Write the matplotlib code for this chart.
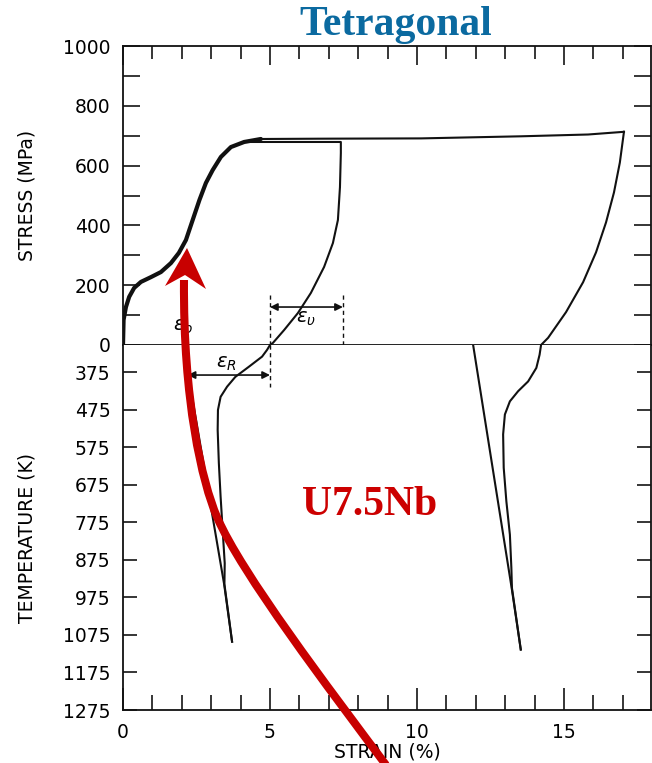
import numpy as np
import matplotlib.pyplot as plt
from matplotlib.ticker import MultipleLocator
from matplotlib.patches import Polygon, PathPatch
from matplotlib.path import Path

# stress-strain loop (MPa vs % strain)
load_strain = [0, 0.02, 0.10, 0.21, 0.38, 0.61, 0.95, 1.29, 1.63, 1.90, 2.14,
               2.37, 2.60, 2.82, 3.05, 3.33, 3.67, 4.12, 4.69]
load_stress = [0, 84, 127, 161, 191, 211, 227, 244, 274, 308, 351,
               418, 485, 542, 585, 629, 662, 679, 689]
plateau_strain = [4.69, 6.73, 10.14, 13.54, 15.82, 17.04]
plateau_stress = [689, 690, 691, 698, 704, 713]
unload1_strain = [4.12, 7.41, 7.41, 7.38, 7.31, 7.14, 6.84, 6.39, 5.95, 5.48, 5.10, 5.0]
unload1_stress = [679, 679, 642, 528, 418, 341, 261, 174, 107, 50, 7, 0]
unload2_strain = [17.04, 16.90, 16.70, 16.43, 16.09, 15.65, 15.07, 14.46, 14.22]
unload2_stress = [713, 610, 510, 410, 310, 210, 110, 24, 0]

# shape recovery on heating / cooling (K vs % strain)
heat1_strain = [5.0, 4.90, 4.73, 4.28, 3.82, 3.54, 3.32, 3.23, 3.22, 3.26, 3.32,
                3.39, 3.46, 3.45, 3.71]
heat1_temp = [303, 316, 334, 361, 388, 414, 441, 476, 529, 617, 707,
              796, 884, 940, 1093]
cool1_strain = [2.05, 3.44, 3.71]
cool1_temp = [303, 940, 1093]
heat2_strain = [14.22, 14.17, 14.06, 13.78, 13.44, 13.16, 12.99, 12.93, 12.95,
                13.04, 13.16, 13.21, 13.23, 13.53]
heat2_temp = [303, 329, 364, 400, 426, 453, 488, 541, 630,
              719, 808, 896, 950, 1114]
cool2_strain = [11.91, 13.23, 13.53]
cool2_temp = [303, 955, 1114]

stress_ticks = [0, 200, 400, 600, 800, 1000]
temp_ticks = [375, 475, 575, 675, 775, 875, 975, 1075, 1175, 1275]
strain_ticks = [0, 5, 10, 15]

# red pointer drawn over the figure (pixel coords, two cubic segments)
pointer_pts = [(386, 765), (330, 690), (241, 573), (217, 517),
               (202, 482), (183, 400), (184, 280)]
pointer_head = [(187, 248), (165, 286), (185, 275), (206, 289)]

W, H = 652, 763
fig = plt.figure(figsize=(W / 100, H / 100), dpi=100)
L, R = 123 / W, 651 / W
ax1 = fig.add_axes([L, 1 - 345 / H, R - L, (345 - 46) / H])
ax2 = fig.add_axes([L, 1 - 710 / H, R - L, (710 - 345) / H])

lab = dict(fontsize=13.5, family='DejaVu Sans')
lc = '#111111'

# --- stress panel
ax1.plot(load_strain, load_stress, color=lc, lw=3.0, solid_capstyle='round')
ax1.plot(plateau_strain, plateau_stress, color=lc, lw=1.5)
ax1.plot(unload1_strain, unload1_stress, color=lc, lw=1.5)
ax1.plot(unload2_strain, unload2_stress, color=lc, lw=1.5)
ax1.set_xlim(0, 17.96)
ax1.set_ylim(0, 1000)
ax1.set_yticks(stress_ticks)
ax1.set_yticklabels([str(v) for v in stress_ticks], **lab)
ax1.yaxis.set_minor_locator(MultipleLocator(100))
ax1.xaxis.set_major_locator(MultipleLocator(5))
ax1.xaxis.set_minor_locator(MultipleLocator(1))
ax1.tick_params(axis='y', which='both', direction='in', length=12, width=1.1,
                left=True, right=True, labelright=False, pad=9)
ax1.tick_params(axis='x', which='major', direction='in', length=14, width=1.1,
                top=True, bottom=False, labelbottom=False, labeltop=False)
ax1.tick_params(axis='x', which='minor', direction='in', length=9.5, width=1.1,
                top=True, bottom=False)
ax1.set_ylabel('STRESS (MPa)', va='center', **lab)
ax1.yaxis.set_label_coords(-0.182, 0.5)

# strain markers
ax1.plot([5.0, 5.0], [0, 174], color=lc, lw=1.0, ls=(0, (3, 2.5)))
ax1.plot([7.48, 7.48], [0, 174], color=lc, lw=1.0, ls=(0, (3, 2.5)))
ax1.annotate('', xy=(5.0, 127), xytext=(7.48, 127),
             arrowprops=dict(arrowstyle='<|-|>', color=lc, lw=1.2,
                             mutation_scale=11, shrinkA=0, shrinkB=0))
ax1.text(6.22, 90, r'$\epsilon_\upsilon$', fontsize=14, ha='center', va='center')
ax1.text(2.05, 62, r'$\epsilon_o$', fontsize=14, ha='center', va='center')

# --- temperature panel
ax2.plot(heat1_strain, heat1_temp, color=lc, lw=1.5)
ax2.plot(cool1_strain, cool1_temp, color=lc, lw=1.5)
ax2.plot(heat2_strain, heat2_temp, color=lc, lw=1.5)
ax2.plot(cool2_strain, cool2_temp, color=lc, lw=1.5)
ax2.set_xlim(0, 17.96)
ax2.set_ylim(1275, 303)
ax2.set_yticks(temp_ticks)
ax2.set_yticklabels([str(v) for v in temp_ticks], **lab)
ax2.set_xticks(strain_ticks)
ax2.set_xticklabels([str(v) for v in strain_ticks], **lab)
ax2.xaxis.set_minor_locator(MultipleLocator(1))
ax2.tick_params(axis='y', direction='in', length=10, width=1.1,
                left=True, right=True, labelright=False, pad=9)
ax2.tick_params(axis='x', which='major', direction='in', length=16, width=1.1,
                bottom=True, top=False, pad=9)
ax2.tick_params(axis='x', which='minor', direction='in', length=11, width=1.1,
                bottom=True, top=False)
ax2.spines['top'].set_visible(False)
ax2.set_ylabel('TEMPERATURE (K)', va='center', **lab)
ax2.yaxis.set_label_coords(-0.182, 0.47)
ax2.set_xlabel('STRAIN (%)', va='center', **lab)
ax2.xaxis.set_label_coords(0.5, -0.115)

ax2.plot([5.0, 5.0], [303, 415], color=lc, lw=1.0, ls=(0, (3, 2.5)))
ax2.annotate('', xy=(2.2, 383), xytext=(5.0, 383),
             arrowprops=dict(arrowstyle='<|-|>', color=lc, lw=1.2,
                             mutation_scale=11, shrinkA=0, shrinkB=0))
ax2.text(3.5, 351, r'$\epsilon_R$', fontsize=14, ha='center', va='center')

for ax in (ax1, ax2):
    for s in ax.spines.values():
        s.set_linewidth(1.3)
        s.set_color(lc)

# --- headings and red pointer
fig.text(395.5 / W, 1 - 35 / H, 'Tetragonal', ha='center', va='baseline',
         fontsize=30, family='Liberation Serif', weight='bold', color='#0b6aa0')
fig.text(369.5 / W, 1 - 515 / H, 'U7.5Nb', ha='center', va='baseline',
         fontsize=30, family='Liberation Serif', weight='bold', color='#cc0000')

ov = fig.add_axes([0, 0, 1, 1])
ov.set_zorder(5)
ov.set_xlim(0, W)
ov.set_ylim(H, 0)
ov.axis('off')
ov.patch.set_alpha(0)
codes = [Path.MOVETO] + [Path.CURVE4] * 6
ov.add_patch(PathPatch(Path(pointer_pts, codes), fill=False, edgecolor='#c80000',
                       lw=5.8, capstyle='butt'))
ov.add_patch(Polygon(pointer_head, closed=True, color='#c80000', lw=0))

fig.savefig('out.png', dpi=100)
